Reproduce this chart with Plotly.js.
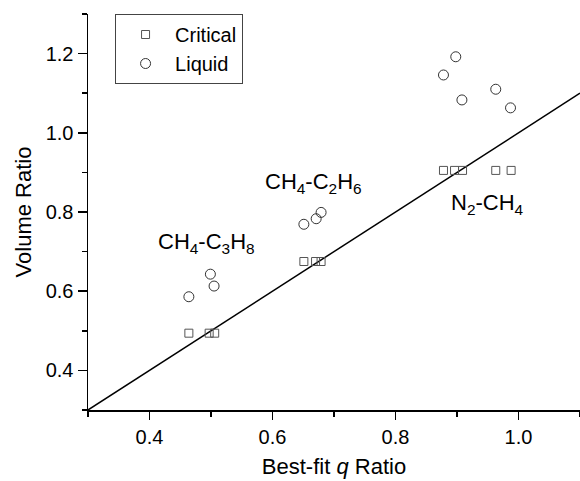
<!DOCTYPE html>
<html>
<head>
<meta charset="utf-8">
<script src="https://cdn.plot.ly/plotly-3.0.1.min.js"></script>
<style>html,body{margin:0;padding:0;background:#fff;}#chart{width:580px;height:481px;}</style>
</head>
<body>
<div id="chart"></div>
<script>
// Critical volume ratio vs best-fit q ratio
const criticalX = [0.464, 0.497, 0.506, 0.651, 0.670, 0.679, 0.878, 0.896, 0.909, 0.963, 0.988];
const criticalY = [0.494, 0.494, 0.494, 0.675, 0.675, 0.675, 0.905, 0.905, 0.905, 0.905, 0.905];
// Liquid volume ratio vs best-fit q ratio
const liquidX = [0.464, 0.499, 0.505, 0.651, 0.671, 0.679, 0.898, 0.878, 0.908, 0.963, 0.987];
const liquidY = [0.586, 0.643, 0.613, 0.769, 0.783, 0.799, 1.192, 1.146, 1.083, 1.110, 1.063];
// Reference line y = x
const lineX = [0.3, 1.1];
const lineY = [0.3, 1.1];

const font = 'Liberation Sans, Arial, sans-serif';

const traces = [
  {x: lineX, y: lineY, mode: 'lines', line: {color: '#000', width: 1.5}, showlegend: false, hoverinfo: 'skip'},
  {x: criticalX, y: criticalY, mode: 'markers', name: 'Critical',
   marker: {symbol: 'square-open', size: 8, color: '#555', line: {width: 1, color: '#555'}}},
  {x: liquidX, y: liquidY, mode: 'markers', name: 'Liquid',
   marker: {symbol: 'circle-open', size: 10, color: '#333', line: {width: 1, color: '#333'}}}
];

const layout = {
  width: 580, height: 481,
  margin: {l: 88, r: 0, t: 14, b: 71},
  paper_bgcolor: '#fff', plot_bgcolor: '#fff',
  font: {family: font, color: '#000', size: 20},
  showlegend: true,
  legend: {x: 0.055, y: 1, xanchor: 'left', yanchor: 'top', bordercolor: '#444', borderwidth: 1,
           bgcolor: '#fff', font: {size: 20, family: font}, tracegroupgap: 0, itemwidth: 49},
  xaxis: {
    range: [0.3, 1.1], dtick: 0.2, tick0: 0.4, tickformat: '.1f',
    showgrid: false, zeroline: false, showline: true, linecolor: '#000', linewidth: 1.5,
    ticks: 'outside', ticklen: 8, tickwidth: 1.5, tickcolor: '#000',
    tickfont: {size: 20, family: font},
    minor: {dtick: 0.1, ticks: 'outside', ticklen: 5, tickwidth: 1.5, tickcolor: '#000', showgrid: false},
    title: {text: 'Best-fit <i>q</i> Ratio', font: {size: 22, family: font}, standoff: 12}
  },
  yaxis: {
    range: [0.3, 1.3], dtick: 0.2, tick0: 0.4, tickformat: '.1f',
    showgrid: false, zeroline: false, showline: true, linecolor: '#000', linewidth: 1.5,
    ticks: 'outside', ticklen: 9, tickwidth: 1.5, tickcolor: '#000',
    tickfont: {size: 20, family: font},
    minor: {dtick: 0.1, ticks: 'outside', ticklen: 5, tickwidth: 1.5, tickcolor: '#000', showgrid: false},
    title: {text: 'Volume Ratio', font: {size: 22, family: font}, standoff: 8}
  },
  annotations: [
    {x: 0.492, y: 0.722, xref: 'x', yref: 'y', text: 'CH<sub>4</sub>-C<sub>3</sub>H<sub>8</sub>', showarrow: false, font: {size: 22, family: font}},
    {x: 0.666, y: 0.873, xref: 'x', yref: 'y', text: 'CH<sub>4</sub>-C<sub>2</sub>H<sub>6</sub>', showarrow: false, font: {size: 22, family: font}},
    {x: 0.949, y: 0.820, xref: 'x', yref: 'y', text: 'N<sub>2</sub>-CH<sub>4</sub>', showarrow: false, font: {size: 22, family: font}}
  ]
};

Plotly.newPlot('chart', traces, layout, {staticPlot: true, displayModeBar: false});
</script>
</body>
</html>
